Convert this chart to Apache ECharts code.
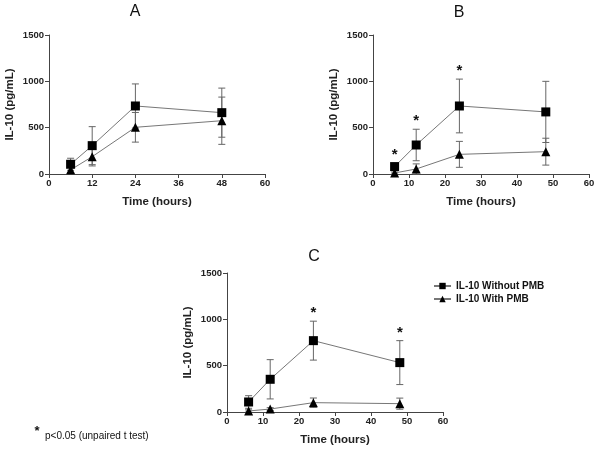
<!DOCTYPE html>
<html><head><meta charset="utf-8">
<script src="https://cdn.jsdelivr.net/npm/echarts@6/dist/echarts.min.js"></script>
<style>html,body{margin:0;padding:0;background:#fff}#c{width:600px;height:454px}</style>
</head><body><div id="c"></div>
<script>
// ---- data ----
const hours = [6, 12, 24, 48];
const panelTitles = ['A', 'B', 'C'];
const seriesNames = ['IL-10 Without PMB', 'IL-10 With PMB'];
const yTicks = [0, 500, 1000, 1500];

const A_without = [105, 306, 734, 662];
const A_withoutErr = [65, 205, 238, 265];
const A_with = [45, 187, 504, 575];
const A_withErr = [30, 100, 160, 255];

const B_without = [80, 313, 734, 670];
const B_withoutErr = [35, 170, 290, 330];
const B_with = [11, 54, 212, 241];
const B_withErr = [10, 55, 140, 145];

const C_without = [108, 353, 770, 533];
const C_withoutErr = [68, 212, 210, 237];
const C_with = [11, 32, 101, 90];
const C_withErr = [12, 15, 50, 60];

const sigB = [6, 12, 24];   // hours with p<0.05
const sigC = [24, 48];

const footnote = 'p<0.05 (unpaired t test)';

// ---- build ----
const font = 'Liberation Sans, Arial, sans-serif';
const grids = [
  {left: 49, top: 35, width: 216, height: 139},
  {left: 373, top: 35, width: 216, height: 139},
  {left: 227, top: 273, width: 216, height: 139}
];
const xIntervals = [12, 10, 10];
const axisColor = '#444';

const xAxes = grids.map((g, i) => ({
  type: 'value', gridIndex: i, min: 0, max: 60, interval: xIntervals[i],
  name: 'Time (hours)', nameLocation: 'middle', nameGap: 22,
  nameTextStyle: {fontFamily: font, fontWeight: 'bold', fontSize: 11.5, color: '#222'},
  axisLine: {show: true, lineStyle: {color: axisColor, width: 1}},
  axisTick: {show: true, length: 4, lineStyle: {color: axisColor}},
  axisLabel: {fontFamily: font, fontWeight: 'bold', fontSize: 9.5, color: '#222', margin: 4,
    formatter: v => String(v)},
  splitLine: {show: false}
}));
const yAxes = grids.map((g, i) => ({
  type: 'value', gridIndex: i, min: yTicks[0], max: yTicks[yTicks.length - 1], interval: yTicks[1] - yTicks[0],
  name: 'IL-10 (pg/mL)', nameLocation: 'middle', nameGap: 33, nameRotate: 90,
  nameTextStyle: {fontFamily: font, fontWeight: 'bold', fontSize: 11.5, color: '#222'},
  axisLine: {show: true, lineStyle: {color: axisColor, width: 1}},
  axisTick: {show: true, length: 4, lineStyle: {color: axisColor}},
  axisLabel: {fontFamily: font, fontWeight: 'bold', fontSize: 9.5, color: '#222', margin: 5,
    formatter: v => String(v)},
  splitLine: {show: false}
}));

function zip(v, e) { return hours.map((h, k) => [h, v[k], e[k]]); }

function errSeries(idx, v, e) {
  return {
    type: 'custom', xAxisIndex: idx, yAxisIndex: idx, z: 1, silent: true,
    data: zip(v, e),
    renderItem: function (params, api) {
      const x = api.value(0), m = api.value(1), er = api.value(2);
      const top = api.coord([x, m + er]);
      const bot = api.coord([x, m - er]);
      const st = {stroke: '#666', lineWidth: 1};
      return {type: 'group', children: [
        {type: 'line', shape: {x1: top[0], y1: top[1], x2: bot[0], y2: bot[1]}, style: st},
        {type: 'line', shape: {x1: top[0] - 3.5, y1: top[1], x2: top[0] + 3.5, y2: top[1]}, style: st},
        {type: 'line', shape: {x1: bot[0] - 3.5, y1: bot[1], x2: bot[0] + 3.5, y2: bot[1]}, style: st}
      ]};
    }
  };
}

function lineSeries(idx, name, v, sym) {
  return {
    type: 'line', name: name, xAxisIndex: idx, yAxisIndex: idx, z: 3,
    data: hours.map((h, k) => [h, v[k]]),
    symbol: sym, symbolSize: 9, showSymbol: true,
    itemStyle: {color: '#000'},
    lineStyle: {color: '#777', width: 1},
    emphasis: {disabled: true}, animation: false
  };
}

function starSeries(idx, sig, v, e) {
  const d = sig.map(h => { const k = hours.indexOf(h); return [h, v[k] + e[k]]; });
  return {
    type: 'custom', xAxisIndex: idx, yAxisIndex: idx, z: 4, silent: true, data: d,
    renderItem: function (params, api) {
      const p = api.coord([api.value(0), api.value(1)]);
      return {type: 'text', x: p[0], y: p[1] - 8,
        style: {text: '*', fontFamily: font, fontSize: 15, fontWeight: 'bold', fill: '#111',
          align: 'center', verticalAlign: 'middle'}};
    }
  };
}

const panels = [
  [A_without, A_withoutErr, A_with, A_withErr],
  [B_without, B_withoutErr, B_with, B_withErr],
  [C_without, C_withoutErr, C_with, C_withErr]
];
const series = [];
panels.forEach((p, i) => {
  series.push(errSeries(i, p[0], p[1]));
  series.push(errSeries(i, p[2], p[3]));
  series.push(lineSeries(i, seriesNames[0], p[0], 'rect'));
  series.push(lineSeries(i, seriesNames[1], p[2], 'triangle'));
});
series.push(starSeries(1, sigB, B_without, B_withoutErr));
series.push(starSeries(2, sigC, C_without, C_withoutErr));

const titlePos = [[135, 12], [459, 13], [314, 257]];
const graphics = panelTitles.map((t, i) => ({
  type: 'text', x: titlePos[i][0], y: titlePos[i][1],
  style: {text: t, fontFamily: font, fontSize: 16, fill: '#111', align: 'center', verticalAlign: 'middle'}
}));
graphics.push({type: 'text', x: 37, y: 431, style: {text: '*', fontFamily: font, fontSize: 13, fontWeight: 'bold', fill: '#111', align: 'center', verticalAlign: 'middle'}});
graphics.push({type: 'text', x: 45, y: 436, style: {text: footnote, fontFamily: font, fontSize: 10, fill: '#111', align: 'left', verticalAlign: 'middle'}});

const chart = echarts.init(document.getElementById('c'), null, {renderer: 'canvas'});
chart.setOption({
  animation: false,
  backgroundColor: '#fff',
  grid: grids,
  xAxis: xAxes,
  yAxis: yAxes,
  legend: {
    data: seriesNames, orient: 'vertical', left: 428, top: 276,
    itemWidth: 17, itemHeight: 8, itemGap: 3,
    textStyle: {fontFamily: font, fontWeight: 'bold', fontSize: 10, color: '#111'},
    selectedMode: false
  },
  graphic: graphics,
  series: series
});
</script>
</body></html>
